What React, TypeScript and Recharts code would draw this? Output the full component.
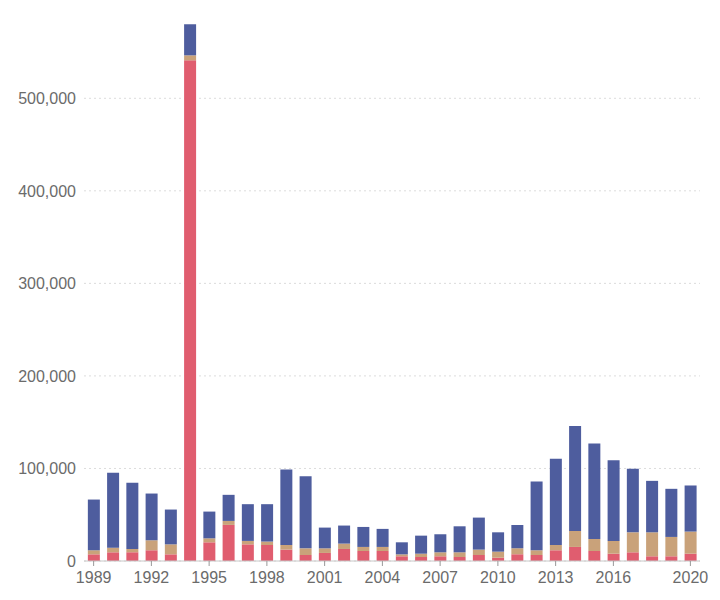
import React from "react";
import { BarChart, Bar, XAxis, YAxis, CartesianGrid } from "recharts";

const years = [
  "1989", "1990", "1991", "1992", "1993", "1994", "1995", "1996", "1997", "1998",
  "1999", "2000", "2001", "2002", "2003", "2004", "2005", "2006", "2007", "2008",
  "2009", "2010", "2011", "2012", "2013", "2014", "2015", "2016", "2017", "2018",
  "2019", "2020",
];

const redSeries = [
  7200, 9400, 9400, 11600, 7200, 541000, 20200, 39000, 18000, 17300,
  12300, 6500, 8700, 13000, 10800, 10800, 5100, 4300, 5100, 4300,
  6500, 3600, 7200, 6500, 11600, 15200, 10800, 7900, 9400, 5100,
  5100, 7900,
];

const tanSeries = [
  4400, 5000, 3600, 10800, 10800, 5400, 4300, 4300, 3700, 3700,
  5000, 7200, 5000, 5800, 4400, 4400, 2100, 3600, 4300, 5100,
  5800, 6500, 6500, 5100, 5700, 17300, 13000, 13800, 21600, 25900,
  20900, 23900,
];

const blueSeries = [
  54800, 80900, 71500, 50500, 37600, 33600, 28900, 28200, 39700, 40400,
  81600, 78000, 22400, 19500, 21600, 19500, 13000, 19500, 19500, 28100,
  34600, 20900, 25300, 74300, 93200, 113300, 103200, 87300, 68600, 55600,
  52000, 49800,
];

const xTicks = ["1989", "1992", "1995", "1998", "2001", "2004", "2007", "2010", "2013", "2016", "2020"];
const yTicks = [0, 100000, 200000, 300000, 400000, 500000];

const data = years.map((y, i) => ({
  year: y,
  red: redSeries[i],
  tan: tanSeries[i],
  blue: blueSeries[i],
}));

const fmt = (v: number) => v.toLocaleString("en-US");

export default function App() {
  return (
    <BarChart
      width={712}
      height={592}
      data={data}
      margin={{ top: 7, right: 20, bottom: 9, left: 0 }}
      barCategoryGap="20%"
      style={{ fontFamily: "'Liberation Sans', Arial, sans-serif" }}
    >
      <CartesianGrid
        vertical={false}
        stroke="#dcdcdc"
        strokeDasharray="2 3"
        syncWithTicks
        horizontalValues={yTicks}
      />
      <XAxis
        dataKey="year"
        ticks={xTicks}
        interval={0}
        height={30}
        tickSize={5}
        tickMargin={6}
        axisLine={{ stroke: "#c8c8c8" }}
        tickLine={{ stroke: "#999" }}
        tick={{ fill: "#6b6b6b", fontSize: 16 }}
      />
      <YAxis
        width={76}
        domain={[0, 590000]}
        ticks={yTicks}
        tickFormatter={fmt}
        axisLine={false}
        tickLine={false}
        tick={{ fill: "#6b6b6b", fontSize: 16 }}
      />
      <Bar dataKey="red" stackId="a" fill="#e05d6f" isAnimationActive={false} />
      <Bar dataKey="tan" stackId="a" fill="#c9a27a" isAnimationActive={false} />
      <Bar dataKey="blue" stackId="a" fill="#4e5d9e" isAnimationActive={false} />
    </BarChart>
  );
}
